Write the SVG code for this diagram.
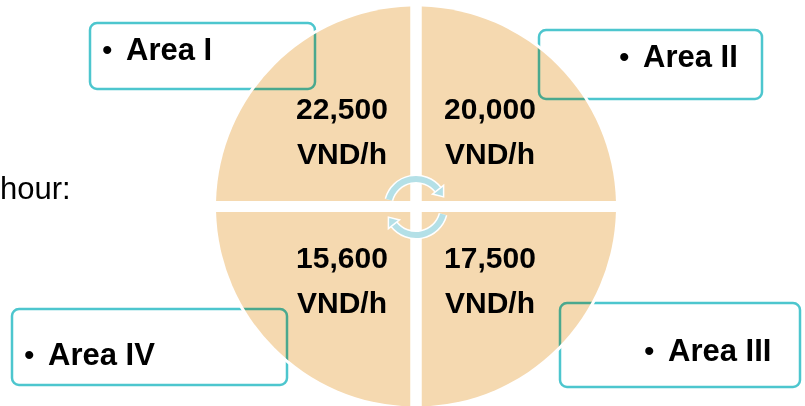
<svg xmlns="http://www.w3.org/2000/svg" width="805" height="406" viewBox="0 0 805 406">
<style>
.box{fill:none;stroke:#4DC6CE;stroke-width:2.5}
.pie{fill:#F5D9B0;mix-blend-mode:multiply}
.lbl{font-family:"Liberation Sans",Arial,sans-serif;font-weight:bold;font-size:31px;fill:#000}
.bul{font-family:"Liberation Sans",Arial,sans-serif;font-size:30px;fill:#000}
.num{font-family:"Liberation Sans",Arial,sans-serif;font-weight:bold;font-size:30px;fill:#000;text-anchor:middle}
.arc{fill:none;stroke:#B4E0E7;stroke-width:6}
.arcw{fill:none;stroke:#fff;stroke-width:9}
.head{fill:#B4E0E7;stroke:#fff;stroke-width:1.5;stroke-linejoin:miter}
</style>
<rect width="805" height="406" fill="#fff"/>
<text x="0" y="199" font-family="Liberation Sans, Arial, sans-serif" font-size="31" fill="#000">hour:</text>
<g id="boxes">
<rect class="box" x="90" y="23" width="225" height="66" rx="7"/>
<rect class="box" x="539" y="30" width="223" height="69" rx="7"/>
<rect class="box" x="560" y="303" width="240" height="84" rx="7"/>
<rect class="box" x="12" y="309" width="275" height="76" rx="7"/>
</g>
<g id="pie">
<circle cx="416" cy="206.5" r="201.5" fill="none" stroke="#fff" stroke-width="3"/>
<path class="pie" d="M410.25,201 V6.58 A200,200 0 0 0 216.08,201 Z"/>
<path class="pie" d="M421.75,201 V6.58 A200,200 0 0 1 615.92,201 Z"/>
<path class="pie" d="M410.25,212 V406.42 A200,200 0 0 1 216.08,212 Z"/>
<path class="pie" d="M421.75,212 V406.42 A200,200 0 0 0 615.92,212 Z"/>
</g>
<g id="connectors">
<g id="arrow-top">
<path class="arcw" d="M388.95,199.75 A28,28 0 0 1 438.06,189.76"/>
<path class="arc" d="M388.95,199.75 A28,28 0 0 1 438.06,189.76"/>
<polygon class="head" points="443.6,185.4 432.5,194.1 443.6,196.9"/>
</g>
<g id="arrow-bottom" transform="rotate(180 416 207)">
<path class="arcw" d="M388.95,199.75 A28,28 0 0 1 438.06,189.76"/>
<path class="arc" d="M388.95,199.75 A28,28 0 0 1 438.06,189.76"/>
<polygon class="head" points="443.6,185.4 432.5,194.1 443.6,196.9"/>
</g>
</g>
<g id="area1">
<text class="bul" x="102" y="60">•</text>
<text class="lbl" x="126" y="60">Area I</text>
</g>
<g id="area2">
<text class="bul" x="619" y="67">•</text>
<text class="lbl" x="643" y="67">Area II</text>
</g>
<g id="area3">
<text class="bul" x="644" y="361">•</text>
<text class="lbl" x="668" y="361">Area III</text>
</g>
<g id="area4">
<text class="bul" x="24" y="365">•</text>
<text class="lbl" x="48" y="365">Area IV</text>
</g>
<g id="q1"><text class="num" x="342" y="119">22,500</text><text class="num" x="342" y="164">VND/h</text></g>
<g id="q2"><text class="num" x="490" y="119">20,000</text><text class="num" x="490" y="164">VND/h</text></g>
<g id="q4"><text class="num" x="342" y="268">15,600</text><text class="num" x="342" y="313">VND/h</text></g>
<g id="q3"><text class="num" x="490" y="268">17,500</text><text class="num" x="490" y="313">VND/h</text></g>
</svg>
